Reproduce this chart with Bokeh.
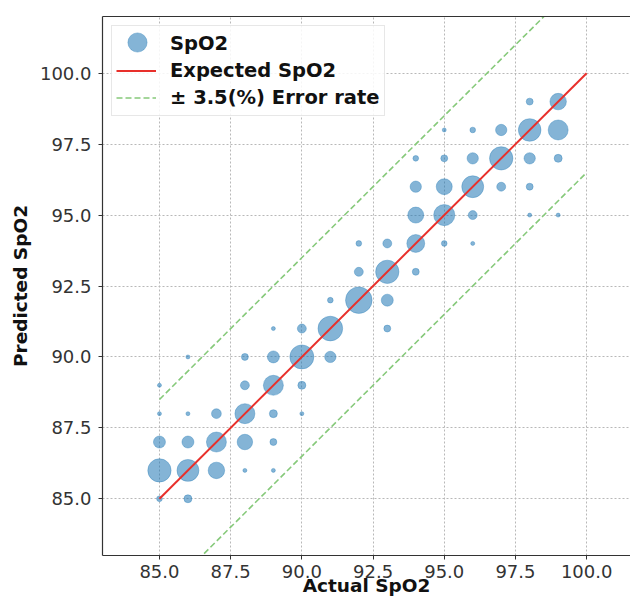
import numpy as np
from bokeh.plotting import figure
from bokeh.models import (ColumnDataSource, FixedTicker, PrintfTickFormatter, Legend,
                          LegendItem, LinearAxis, Range1d)
from bokeh.embed import file_html
from bokeh.resources import INLINE

# ---- data ----
actual = [85, 85, 85, 85, 85,
          86, 86, 86, 86, 86,
          87, 87, 87,
          88, 88, 88, 88, 88,
          89, 89, 89, 89, 89, 89,
          90, 90, 90, 90,
          91, 91, 91,
          92, 92, 92,
          93, 93, 93, 93,
          94, 94, 94, 94, 94,
          95, 95, 95, 95, 95,
          96, 96, 96, 96, 96,
          97, 97, 97,
          98, 98, 98, 98, 98,
          99, 99, 99, 99]
predicted = [85, 86, 87, 88, 89,
             85, 86, 87, 88, 90,
             86, 87, 88,
             86, 87, 88, 89, 90,
             86, 87, 88, 89, 90, 91,
             88, 89, 90, 91,
             90, 91, 92,
             92, 93, 94,
             91, 92, 93, 94,
             93, 94, 95, 96, 97,
             94, 95, 96, 97, 98,
             94, 95, 96, 97, 98,
             96, 97, 98,
             95, 96, 97, 98, 99,
             95, 97, 98, 99]
counts = [2, 34, 9, 1, 1,
          4, 30, 9, 1, 1,
          17, 25, 6,
          1, 15, 25, 5, 3,
          1, 3, 4, 25, 9, 1,
          1, 4, 36, 5,
          8, 38, 2,
          44, 5, 2,
          3, 9, 34, 5,
          3, 20, 16, 8, 2,
          2, 28, 16, 3, 1,
          1, 5, 30, 8, 2,
          5, 34, 8,
          1, 3, 8, 32, 3,
          1, 4, 25, 17]
expected_x = [85, 100]
error_rate = 3.5
tick_values = [85.0, 87.5, 90.0, 92.5, 95.0, 97.5, 100.0]
legend_labels = ["SpO2", "Expected SpO2", "\u00b1 3.5(%) Error rate"]

FONT = "DejaVu Sans"
BLUE = "#1f77b4"
RED = "#e8302b"
GREEN = "#86c97a"

src = ColumnDataSource(dict(x=actual, y=predicted,
                            size=4.0 * np.sqrt(np.array(counts, dtype=float))))

p = figure(width=630, height=603,
           x_range=Range1d(83.0, 101.54), y_range=Range1d(83.0, 102.0),
           output_backend="svg", toolbar_location=None,
           min_border_left=102, min_border_right=0, min_border_top=16, min_border_bottom=48)
p.outline_line_color = None

pts = p.scatter(x="x", y="y", size="size", source=src,
                fill_color=BLUE, fill_alpha=0.55, line_color=BLUE, line_alpha=0.35, line_width=1)

upper = [v + error_rate for v in expected_x]
lower = [v - error_rate for v in expected_x]
g1 = p.line(expected_x, upper, line_color=GREEN, line_width=1.6, line_dash="6 3")
p.line(expected_x, lower, line_color=GREEN, line_width=1.6, line_dash="6 3")
red = p.line(expected_x, expected_x, line_color=RED, line_width=2)

# placeholder renderer (draws nothing) for the first row of the boxed legend
blank = p.scatter(x=[], y=[], size=1, fill_color=None, line_color=None)

# axes
for ax in (p.xaxis[0], p.yaxis[0]):
    ax.ticker = FixedTicker(ticks=tick_values)
    ax.formatter = PrintfTickFormatter(format="%.1f")
    ax.major_label_text_font = FONT
    ax.major_label_text_font_size = "18px"
    ax.major_label_text_color = "#333333"
    ax.axis_label_text_font = FONT
    ax.axis_label_text_font_style = "bold"
    ax.axis_label_text_font_size = "18.5px"
    ax.axis_label_text_color = "#111111"
    ax.axis_line_color = "#333333"
    ax.axis_line_width = 1.2
    ax.major_tick_line_color = "#333333"
    ax.major_tick_out = 4
    ax.major_tick_in = 0
    ax.minor_tick_line_color = None

p.xaxis.axis_label = "Actual SpO2"
p.yaxis.axis_label = "Predicted SpO2"
p.xaxis.major_label_standoff = 5
p.xaxis.axis_label_standoff = -6
p.yaxis.major_label_standoff = 7
p.yaxis.axis_label_standoff = 6

top = LinearAxis(ticker=FixedTicker(ticks=[]), major_label_text_font_size="0px",
                 major_tick_out=0, major_tick_in=0, minor_tick_out=0, minor_tick_in=0,
                 major_label_standoff=0, axis_line_color="#333333", axis_line_width=1.2)
p.add_layout(top, "above")

for g in (p.xgrid[0], p.ygrid[0]):
    g.grid_line_color = "#b8b8b8"
    g.grid_line_dash = "2 2"
    g.grid_line_width = 1

legend = Legend(items=[LegendItem(label=legend_labels[0], renderers=[blank]),
                       LegendItem(label=legend_labels[1], renderers=[red]),
                       LegendItem(label=legend_labels[2], renderers=[g1])],
                location="top_left")
legend.label_text_font = FONT
legend.label_text_font_style = "bold"
legend.label_text_font_size = "19.5px"
legend.label_text_color = "#111111"
legend.border_line_color = "#d0d0d0"
legend.background_fill_alpha = 0.85
legend.margin = 9
legend.padding = 4
legend.spacing = 0
legend.label_height = 27
legend.glyph_height = 27
legend.glyph_width = 40
legend.label_standoff = 14
p.add_layout(legend)

# second, transparent legend that only carries the larger marker symbol
dot_legend = Legend(items=[LegendItem(label=" ", renderers=[pts])], location="top_left")
dot_legend.border_line_color = None
dot_legend.background_fill_color = None
dot_legend.background_fill_alpha = 0
dot_legend.margin = 2
dot_legend.padding = 0
dot_legend.glyph_width = 66
dot_legend.glyph_height = 48
dot_legend.label_height = 48
dot_legend.label_width = 1
dot_legend.label_standoff = 0
dot_legend.label_text_font_size = "1px"
p.add_layout(dot_legend)

open("out.html", "w").write(file_html(p, INLINE))
